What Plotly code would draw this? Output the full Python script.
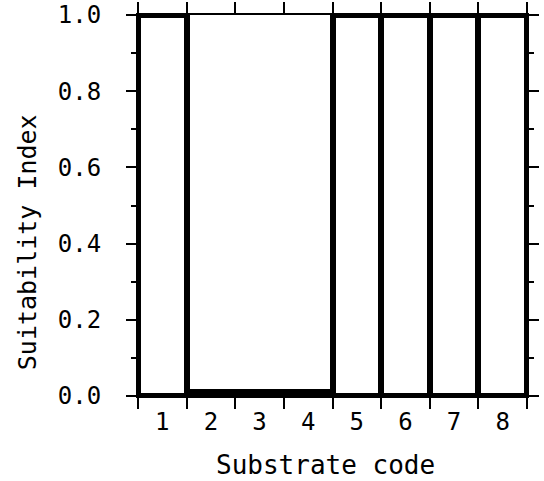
import plotly.graph_objects as go

# substrate codes and suitability index
codes = [1, 2, 3, 4, 5, 6, 7, 8]
suitability = [1.0, 0.01, 0.01, 0.01, 1.0, 1.0, 1.0, 1.0]

y_ticks = [0.0, 0.2, 0.4, 0.6, 0.8, 1.0]
y_labels = ["0.0", "0.2", "0.4", "0.6", "0.8", "1.0"]

font_name = "DejaVu Sans Mono"

fig = go.Figure()

fig.add_trace(go.Bar(
    x=codes,
    y=suitability,
    width=1.0,
    marker=dict(color="white", line=dict(color="black", width=6)),
    showlegend=False,
))

fig.update_layout(
    width=544,
    height=481,
    margin=dict(l=138, r=17, t=15, b=85),
    plot_bgcolor="white",
    paper_bgcolor="white",
    bargap=0,
    font=dict(family=font_name, size=24, color="black"),
)

fig.update_xaxes(
    range=[0.5, 8.5],
    automargin=False,
    tickvals=codes,
    ticktext=[str(c) for c in codes],
    ticks="",
    ticklabelstandoff=3,
    minor=dict(tickvals=[c - 0.5 for c in codes] + [8.5], ticks="outside",
               ticklen=11, tickwidth=2, tickcolor="black"),
    showline=True, linewidth=2, linecolor="black", mirror="ticks",
    showgrid=False, zeroline=False,
)

fig.update_yaxes(
    range=[0, 1.0],
    automargin=False,
    tickvals=y_ticks,
    ticktext=y_labels,
    ticks="outside", ticklen=10, tickwidth=2, tickcolor="black",
    ticklabelstandoff=20,
    minor=dict(tickvals=[0.1, 0.3, 0.5, 0.7, 0.9], ticks="outside",
               ticklen=5, tickwidth=2, tickcolor="black"),
    showline=True, linewidth=2, linecolor="black", mirror="ticks",
    showgrid=False, zeroline=False,
)

# axis titles as annotations (the y title sits below the axis centre in the original)
fig.add_annotation(text="Substrate code", xref="paper", yref="paper",
                   x=0.483, y=-0.181, xanchor="center", yanchor="middle",
                   showarrow=False, font=dict(size=26))
fig.add_annotation(text="Suitability Index", xref="paper", yref="paper",
                   x=-0.285, y=0.404, xanchor="center", yanchor="middle",
                   textangle=-90, showarrow=False, font=dict(size=25))

fig.write_html("out.html", config={"displayModeBar": False},
               post_script="document.body.style.margin='0';")
